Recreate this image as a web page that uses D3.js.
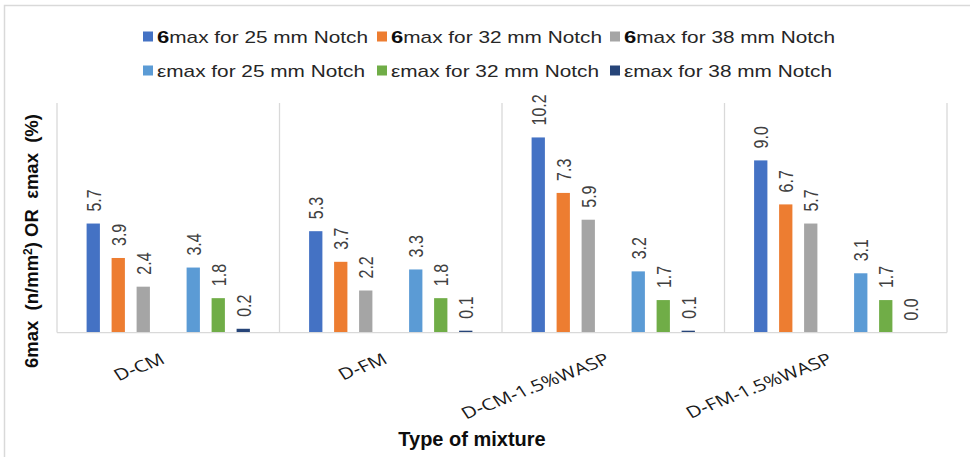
<!DOCTYPE html>
<html>
<head>
<meta charset="utf-8">
<script src="https://cdn.jsdelivr.net/npm/d3@7/dist/d3.min.js"></script>
<style>
  html, body { margin: 0; padding: 0; background: #fff; }
  svg { display: block; }
</style>
</head>
<body>
<script>
// Mixture types along the horizontal axis
const categories = ["D-CM", "D-FM", "D-CM-1.5%WASP", "D-FM-1.5%WASP"];

// Peak stress (n/mm²) for each notch depth
const sigma25 = [5.7, 5.3, 10.2, 9.0];
const sigma32 = [3.9, 3.7, 7.3, 6.7];
const sigma38 = [2.4, 2.2, 5.9, 5.7];

// Peak strain (%) for each notch depth
const eps25 = [3.4, 3.3, 3.2, 3.1];
const eps32 = [1.8, 1.8, 1.7, 1.7];
const eps38 = [0.2, 0.1, 0.1, 0.0];

const seriesNames = [
  "6max for 25 mm Notch", "6max for 32 mm Notch", "6max for 38 mm Notch",
  "εmax for 25 mm Notch", "εmax for 32 mm Notch", "εmax for 38 mm Notch"
];
const seriesValues = [sigma25, sigma32, sigma38, eps25, eps32, eps38];
const seriesColors = ["#4472C4", "#ED7D31", "#A5A5A5", "#5B9BD5", "#70AD47", "#264478"];

const yDomain = [0, 12];

const W = 970, H = 457;
const plot = { left: 57, right: 947, top: 103, bottom: 332.6 };
const SX = 1.3; // horizontal glyph stretch used by the chart's text

const svg = d3.select("body").append("svg")
  .attr("width", W).attr("height", H)
  .style("font-family", "'Liberation Sans', Arial, sans-serif");

// chart frame
svg.append("rect")
  .attr("x", 4.5).attr("y", 5.5)
  .attr("width", W + 10).attr("height", H + 10)
  .attr("fill", "#fff").attr("stroke", "#d9d9d9").attr("stroke-width", 1.5);

const x = d3.scaleBand().domain(categories).range([plot.left, plot.right]).padding(0);
// slot order inside each group; an empty slot separates the σ and ε bars
const slotKeys = ["s0", "s1", "s2", "gap", "s3", "s4", "s5"];
const xInner = d3.scaleBand().domain(slotKeys).range([0, x.bandwidth()])
  .paddingInner(0.468).paddingOuter(1.184);
const y = d3.scaleLinear().domain(yDomain).range([plot.bottom, plot.top]);

// vertical gridlines at category boundaries
const bounds = categories.map(c => x(c)).concat([x(categories[categories.length - 1]) + x.bandwidth()]);
svg.append("g").selectAll("line").data(bounds).join("line")
  .attr("x1", d => d).attr("x2", d => d)
  .attr("y1", plot.top).attr("y2", plot.bottom)
  .attr("stroke", "#d9d9d9").attr("stroke-width", 1.3);

// bars and their value labels
const barData = [];
seriesValues.forEach((vals, si) => {
  vals.forEach((v, ci) => barData.push({ si, cat: categories[ci], v }));
});
const slotOf = si => slotKeys.filter(k => k !== "gap")[si];

const bars = svg.append("g");
bars.selectAll("rect").data(barData).join("rect")
  .attr("x", d => x(d.cat) + xInner(slotOf(d.si)))
  .attr("y", d => y(d.v))
  .attr("width", xInner.bandwidth())
  .attr("height", d => y(0) - y(d.v))
  .attr("fill", d => seriesColors[d.si]);

bars.selectAll("text").data(barData).join("text")
  .attr("transform", d => {
    const cx = x(d.cat) + xInner(slotOf(d.si)) + xInner.bandwidth() / 2;
    return `translate(${cx},${y(d.v) - 12}) scale(${SX},1) rotate(-90)`;
  })
  .attr("dy", "0.36em")
  .attr("font-size", 16)
  .attr("fill", "#404040")
  .text(d => d.v.toFixed(1));

// category axis line
svg.append("line")
  .attr("x1", plot.left).attr("x2", plot.right)
  .attr("y1", plot.bottom).attr("y2", plot.bottom)
  .attr("stroke", "#d9d9d9").attr("stroke-width", 1.3);

// slanted category labels, ending under each group centre
svg.append("g").selectAll("text").data(categories).join("text")
  .attr("transform", c => `translate(${x(c) + x.bandwidth() / 2 - 2},${plot.bottom + 30}) scale(${SX},1) rotate(-27)`)
  .attr("text-anchor", "end")
  .attr("font-family", "'Open Sans', 'Noto Sans', sans-serif")
  .attr("font-size", 16)
  .attr("fill", "#1a1a1a")
  .text(c => c);

// axis titles
svg.append("text")
  .attr("x", 472).attr("y", 446)
  .attr("text-anchor", "middle")
  .attr("font-size", 20).attr("font-weight", "bold")
  .attr("fill", "#0d0d0d")
  .text("Type of mixture");

svg.append("text")
  .attr("transform", "translate(38,241) rotate(-90)")
  .attr("text-anchor", "middle")
  .attr("font-size", 18.5).attr("font-weight", "bold")
  .attr("fill", "#0d0d0d")
  .attr("xml:space", "preserve")
  .call(t => {
    t.append("tspan").text("6max  (n/mm");
    t.append("tspan").attr("dy", -6).attr("font-size", 12).text("2");
    t.append("tspan").attr("dy", 6).text(") OR  εmax  (%)");
  });

// legend: two rows of three
const legend = svg.append("g");
const legendCols = [143, 377, 610];
const legendRows = [37, 71];
seriesNames.forEach((name, i) => {
  const lx = legendCols[i % 3], ly = legendRows[Math.floor(i / 3)];
  legend.append("rect")
    .attr("x", lx).attr("y", ly - 5.5)
    .attr("width", 10).attr("height", 10)
    .attr("fill", seriesColors[i]);
  const t = legend.append("text")
    .attr("transform", `translate(${lx + 14},${ly}) scale(${SX},1)`)
    .attr("dy", "0.36em")
    .attr("font-size", 16)
    .attr("fill", "#262626");
  if (name.startsWith("6")) {
    t.append("tspan").attr("font-weight", "bold").attr("font-size", 17).attr("fill", "#0d0d0d").text("6");
    t.append("tspan").text(name.slice(1));
  } else {
    t.text(name);
  }
});
</script>
</body>
</html>
